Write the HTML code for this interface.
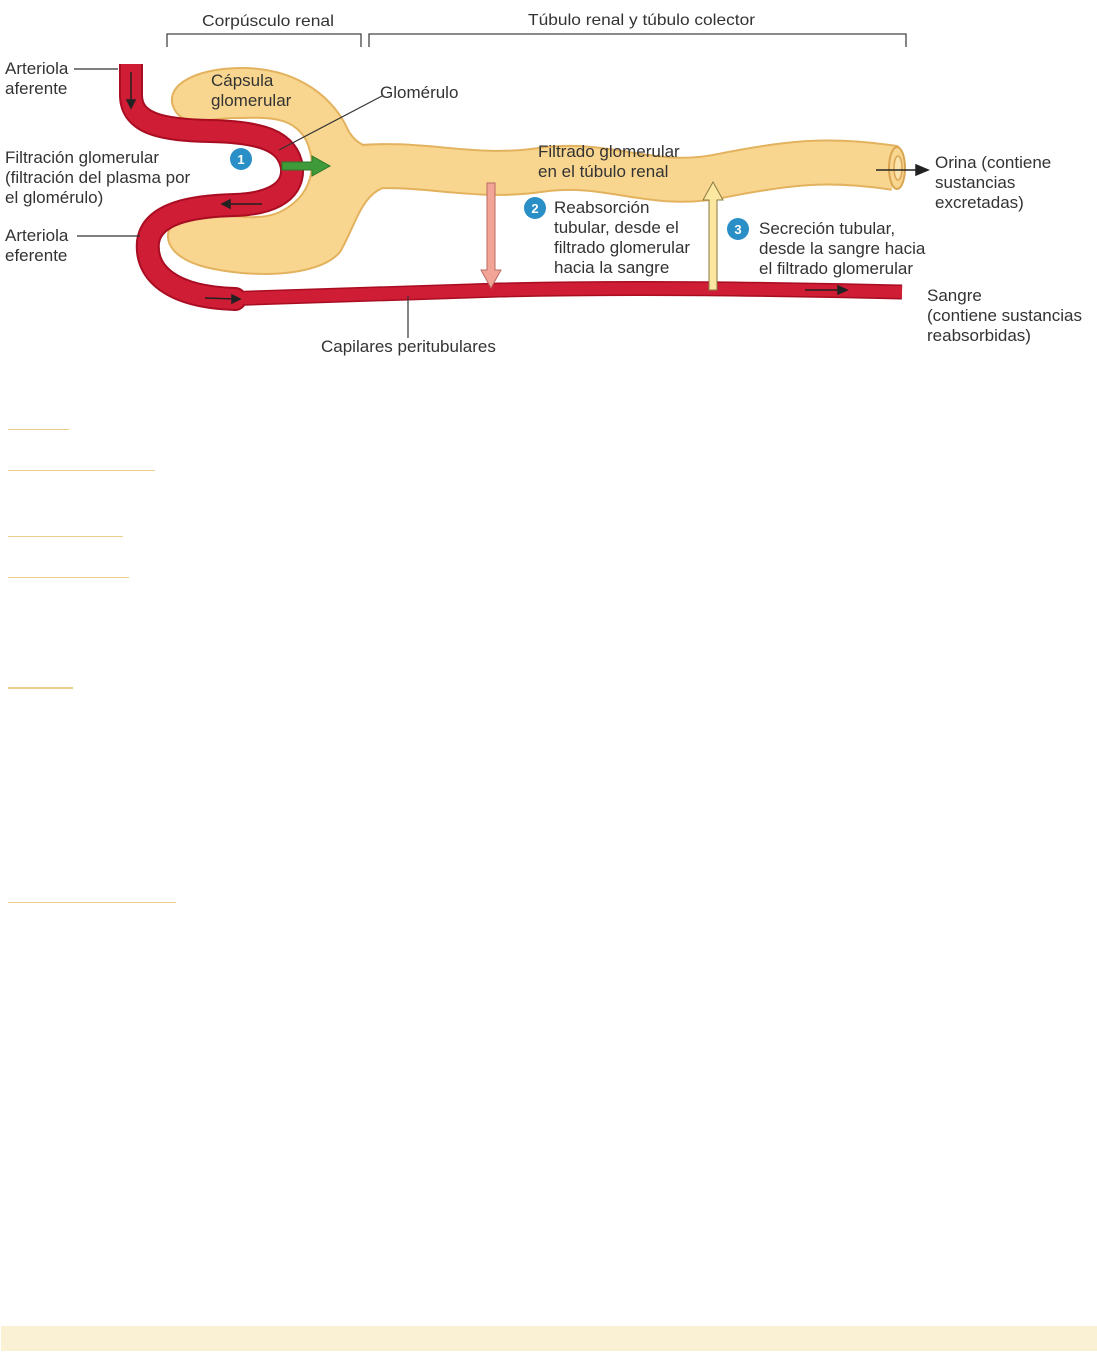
<!DOCTYPE html>
<html><head><meta charset="utf-8"><style>
html,body{margin:0;padding:0;background:#fff;}
body{width:1097px;height:1352px;position:relative;overflow:hidden;}
svg{position:absolute;left:0;top:0;}
text{font-family:"Liberation Sans",sans-serif;font-size:17px;fill:#333;}
.ln{position:absolute;left:8px;height:1px;background:#ecd08a;}
</style></head><body>
<svg width="1097" height="1352" viewBox="0 0 1097 1352">
<g fill="none" stroke="#444" stroke-width="1.3">
<path d="M167,47 V34 H361 V47"/>
<path d="M369,47 V34 H906 V47"/>
</g>
<text x="202" y="26" textLength="132" lengthAdjust="spacingAndGlyphs" style="font-size:16px">Corpúsculo renal</text>
<text x="528" y="25" textLength="227" lengthAdjust="spacingAndGlyphs" style="font-size:16px">Túbulo renal y túbulo colector</text>

<path d="M350,168 C420,160 470,180 540,170 C610,160 650,190 720,176 C790,162 830,158 895,168" fill="none" stroke="#e3b25e" stroke-width="46"/>
<path d="M176,112 C160,88 192,68 242,68 C300,68 335,100 348,130 C356,145 370,150 390,150 L390,186 C362,190 356,225 340,252 C318,278 250,278 205,267 C166,257 158,232 180,218 C207,206 250,226 280,212 C312,196 318,166 306,140 C292,114 262,118 236,118 C205,118 188,128 176,112 Z" fill="#f9d68f" stroke="#e3b25e" stroke-width="2"/>
<path d="M355,168 C420,160 470,180 540,170 C610,160 650,190 720,176 C790,162 830,158 895,168" fill="none" stroke="#f9d68f" stroke-width="42"/>
<ellipse cx="897" cy="168" rx="8" ry="21" fill="#f9d68f" stroke="#d9a552" stroke-width="2"/>
<ellipse cx="898" cy="168" rx="4" ry="12" fill="#fbe3ad" stroke="#d9a552" stroke-width="1.5"/>

<path d="M131,64 V95 C131,125 165,130 210,131 C260,132 288,140 292,168 C294,195 265,204 235,205 C195,206 152,212 148,242 C145,272 170,297 235,299" fill="none" stroke="#a80d22" stroke-width="24" stroke-linecap="round"/>
<path d="M220,299 C330,296 420,292 500,290 C640,287 770,289 902,292" fill="none" stroke="#a80d22" stroke-width="15"/>
<path d="M131,64 V95 C131,125 165,130 210,131 C260,132 288,140 292,168 C294,195 265,204 235,205 C195,206 152,212 148,242 C145,272 170,297 235,299" fill="none" stroke="#cf1d35" stroke-width="20" stroke-linecap="round"/>
<path d="M220,299 C330,296 420,292 500,290 C640,287 770,289 902,292" fill="none" stroke="#cf1d35" stroke-width="12"/>
<rect x="117" y="48" width="30" height="16" fill="#fff"/>
<g stroke="#222" stroke-width="1.5" fill="#222">
<path d="M131,72 V104" fill="none"/><path d="M127,100 L131,108 L135,100 Z"/>
<path d="M262,204 H226" fill="none"/><path d="M230,200 L222,204 L230,208 Z"/>
<path d="M205,298 L236,299" fill="none"/><path d="M232,295 L240,299 L232,303 Z"/>
<path d="M805,290 H842" fill="none"/><path d="M838,286 L847,290 L838,294 Z"/>
<path d="M876,170 H920" fill="none"/><path d="M916,165 L928,170 L916,175 Z"/>
</g>
<path d="M282,162 H312 V156 L330,166 L312,176 V170 H282 Z" fill="#3f9b3a" stroke="#2b7a2b" stroke-width="1"/>
<path d="M487,183 H495 V270 H501 L491,288 L481,270 H487 Z" fill="#f2a596" stroke="#b86a60" stroke-width="1"/>
<path d="M709,290 V200 H703 L713,182 L723,200 H717 V290 Z" fill="#fbe7a0" stroke="#8a7a40" stroke-width="1"/>

<circle cx="241" cy="159" r="11" fill="#2a8ec7"/><text x="241" y="164" text-anchor="middle" style="fill:#fff;font-size:13px;font-weight:bold">1</text>
<circle cx="535" cy="208" r="11" fill="#2a8ec7"/><text x="535" y="213" text-anchor="middle" style="fill:#fff;font-size:13px;font-weight:bold">2</text>
<circle cx="738" cy="229" r="11" fill="#2a8ec7"/><text x="738" y="234" text-anchor="middle" style="fill:#fff;font-size:13px;font-weight:bold">3</text>

<g stroke="#333" stroke-width="1.2" fill="none">
<path d="M74,69 H118"/>
<path d="M77,236 H140"/>
<path d="M279,150 L382,96"/>
<path d="M408,296 V338"/>
</g>

<text x="5" y="74">Arteriola</text><text x="5" y="94">aferente</text>
<text x="211" y="86">Cápsula</text><text x="211" y="106">glomerular</text>
<text x="380" y="98">Glomérulo</text>
<text x="5" y="163">Filtración glomerular</text><text x="5" y="183">(filtración del plasma por</text><text x="5" y="203">el glomérulo)</text>
<text x="5" y="241">Arteriola</text><text x="5" y="261">eferente</text>
<text x="538" y="157">Filtrado glomerular</text><text x="538" y="177">en el túbulo renal</text>
<text x="554" y="213">Reabsorción</text><text x="554" y="233">tubular, desde el</text><text x="554" y="253">filtrado glomerular</text><text x="554" y="273">hacia la sangre</text>
<text x="759" y="234">Secreción tubular,</text><text x="759" y="254">desde la sangre hacia</text><text x="759" y="274">el filtrado glomerular</text>
<text x="935" y="168">Orina (contiene</text><text x="935" y="188">sustancias</text><text x="935" y="208">excretadas)</text>
<text x="927" y="301">Sangre</text><text x="927" y="321">(contiene sustancias</text><text x="927" y="341">reabsorbidas)</text>
<text x="321" y="352">Capilares peritubulares</text>

<rect x="1" y="1326" width="1096" height="25" fill="#faf0d4"/>
</svg>
<div class="ln" style="top:429px;width:61px"></div>
<div class="ln" style="top:470px;width:147px"></div>
<div class="ln" style="top:536px;width:115px"></div>
<div class="ln" style="top:577px;width:121px"></div>
<div class="ln" style="top:687px;width:65px;height:2px"></div>
<div class="ln" style="top:902px;width:168px"></div>
</body></html>
